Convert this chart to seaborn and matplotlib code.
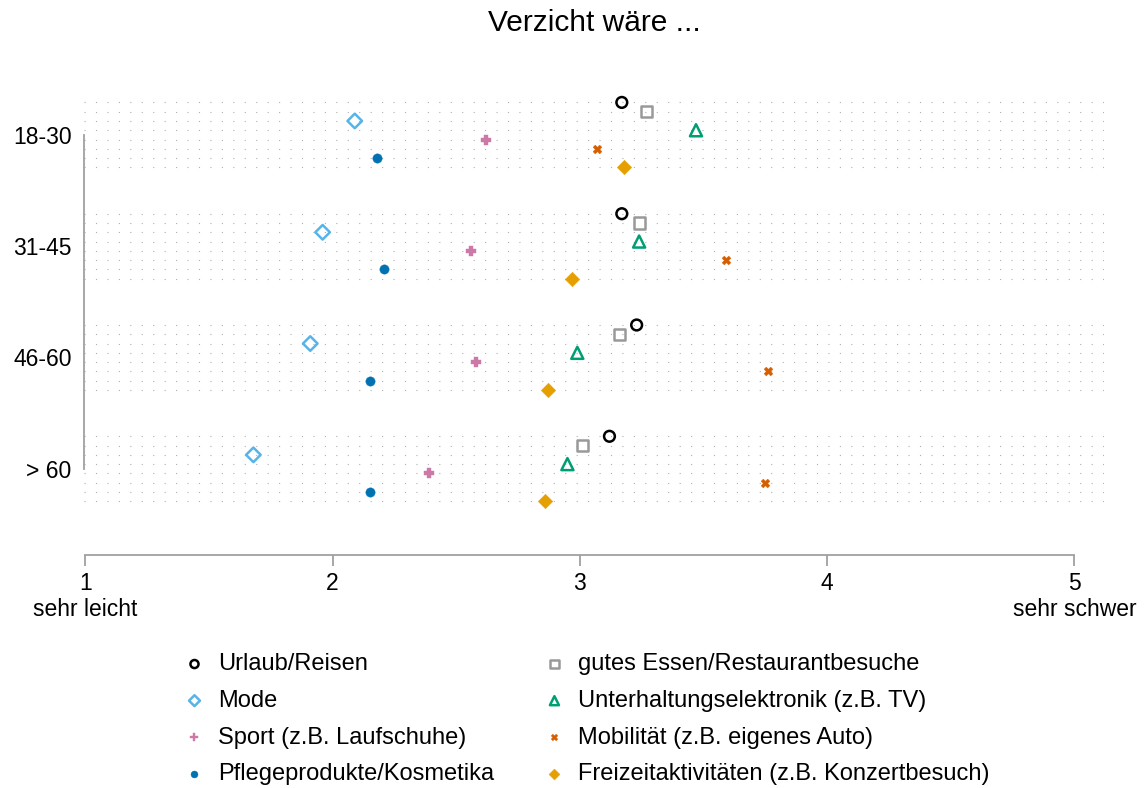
import matplotlib
matplotlib.use("Agg")
import matplotlib.pyplot as plt
import pandas as pd
import seaborn as sns

sns.set_style("white")
plt.rcParams['font.family'] = ['Liberation Sans', 'DejaVu Sans']
plt.rcParams['text.color'] = 'black'
plt.rcParams['xtick.color'] = 'black'
plt.rcParams['ytick.color'] = 'black'

# age groups (top to bottom)
groups = ['18-30', '31-45', '46-60', '> 60']

# categories in row order within each group
categories = ['Urlaub/Reisen', 'gutes Essen/Restaurantbesuche', 'Mode',
              'Unterhaltungselektronik (z.B. TV)', 'Sport (z.B. Laufschuhe)',
              'Mobilität (z.B. eigenes Auto)', 'Pflegeprodukte/Kosmetika',
              'Freizeitaktivitäten (z.B. Konzertbesuch)']

# mean ratings per group (1 = sehr leicht, 5 = sehr schwer)
urlaub = [3.17, 3.17, 3.23, 3.12]
essen = [3.27, 3.24, 3.16, 3.01]
mode = [2.09, 1.96, 1.91, 1.68]
elektronik = [3.47, 3.24, 2.99, 2.95]
sport = [2.62, 2.56, 2.58, 2.39]
mobilitaet = [3.07, 3.59, 3.76, 3.75]
pflege = [2.18, 2.21, 2.15, 2.15]
freizeit = [3.18, 2.97, 2.87, 2.86]

values = [urlaub, essen, mode, elektronik, sport, mobilitaet, pflege, freizeit]

colors = ['black', '#999999', '#56B4E9', '#009E73', '#CC79A7', '#D55E00', '#0072B2', '#E69F00']
markers = ['o', 's', 'D', '^', 'P', 'X', 'o', 'D']
hollow = [True, True, True, True, False, False, False, False]
sizes = [60, 65, 55, 75, 55, 40, 45, 55]

group_step = 12
rows = []
for gi, g in enumerate(groups):
    for ci, c in enumerate(categories):
        rows.append({'group': g, 'category': c, 'value': values[ci][gi],
                     'ypos': gi * group_step + (ci - 3.5)})
df = pd.DataFrame(rows)

fig = plt.figure(figsize=(11.47, 7.88), dpi=100)
ax = fig.add_axes([84 / 1147, 1 - 555 / 788, (1104 - 84) / 1147, (555 - 95) / 788])

for ci, c in enumerate(categories):
    sub = df[df['category'] == c]
    if hollow[ci]:
        sns.scatterplot(data=sub, x='value', y='ypos', ax=ax, marker=markers[ci], s=sizes[ci],
                        color=colors[ci], facecolor='none', edgecolor=colors[ci],
                        linewidth=1.8, label=c, zorder=3)
    else:
        sns.scatterplot(data=sub, x='value', y='ypos', ax=ax, marker=markers[ci], s=sizes[ci],
                        color=colors[ci], edgecolor=colors[ci], linewidth=0.3,
                        label=c, zorder=3)

ax.set_xlim(0.995, 5.12)
ax.set_ylim(36 + 9.3, -4.3)

# dotted row lines
ax.set_yticks(df['ypos'].unique(), minor=True)
ax.grid(which='minor', axis='y', color='#b0b0b0', linestyle=(0, (1, 9.3)), linewidth=0.8)
ax.grid(which='major', visible=False)

ax.set_yticks([gi * group_step for gi in range(len(groups))])
ax.set_yticklabels(groups, fontsize=16.5)
ax.set_xticks([1, 2, 3, 4, 5])
ax.set_xticklabels(['1\nsehr leicht', '2', '3', '4', '5\nsehr schwer'], fontsize=16.5)
ax.tick_params(axis='y', which='both', length=0, pad=9, left=False)
ax.tick_params(axis='x', bottom=True, length=8, width=1.3, color='#a0a0a0', pad=4,
               direction='out', labelcolor='black')

for side in ['top', 'right']:
    ax.spines[side].set_visible(False)
for side in ['left', 'bottom']:
    ax.spines[side].set_color('#a0a0a0')
    ax.spines[side].set_linewidth(1.3)
ax.spines['left'].set_bounds(0, 36)
ax.spines['bottom'].set_bounds(1, 5)
ax.set_xlabel('')
ax.set_ylabel('')

h, l = ax.get_legend_handles_labels()
ax.get_legend().remove()
order = [0, 2, 4, 6, 1, 3, 5, 7]
fig.legend([h[i] for i in order], [l[i] for i in order], ncol=2, loc='upper center',
           bbox_to_anchor=(0.511, 0.189), frameon=False, fontsize=17, markerscale=0.75,
           handlelength=1.0, handletextpad=0.5, columnspacing=2.05, labelspacing=0.62,
           borderaxespad=0.2)

fig.text(594 / 1147, 1 - 23 / 788, 'Verzicht wäre ...', ha='center', va='center', fontsize=21.5)

fig.savefig('out.png', dpi=100)
